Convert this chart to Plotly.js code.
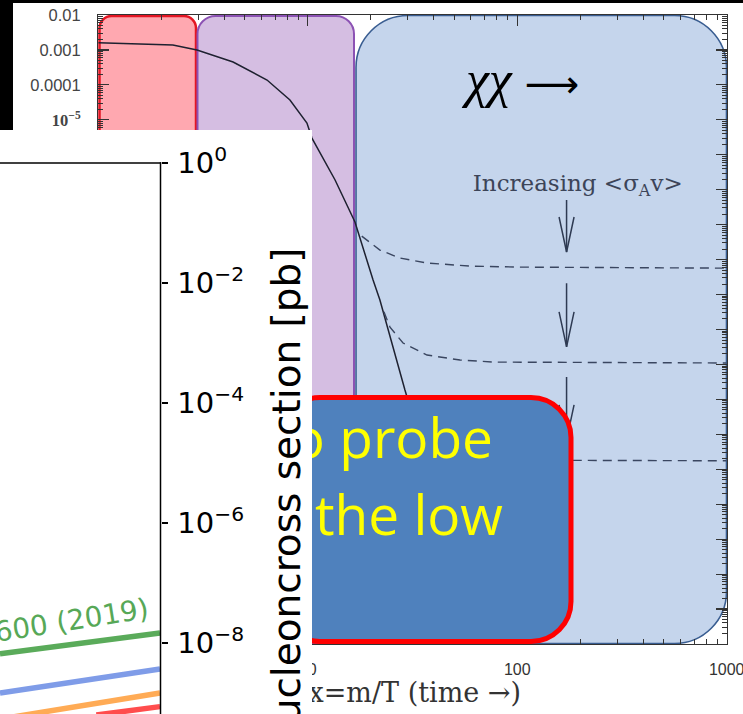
<!DOCTYPE html>
<html><head><meta charset="utf-8">
<script src="https://cdn.plot.ly/plotly-3.0.1.min.js"></script>
<style>html,body{margin:0;padding:0;background:#000;overflow:hidden}</style>
</head><body><div id="chart" style="width:743px;height:714px"></div>
<script>
// ---------- Freeze-out plot (background figure): x = m/T, comoving abundance Y ----------
const eqX = [1, 2.27, 2.96, 4.40, 6.39, 8.22, 9.91, 10.47, 13.5, 16.8, 20.5, 22.1, 29.1, 30.1];
const eqY = [1.6e-3, 1.38e-3, 1.0e-3, 4.5e-4, 1.38e-4, 3.7e-5, 8.1e-6, 3.0e-6, 1.9e-7, 1.19e-8, 2.6e-10, 7e-11, 1.85e-13, 9.5e-14];
const fo1X = [18.1, 22.1, 27.5, 37.1, 59.5, 103, 1000];
const fo1Y = [4.7e-9, 1.88e-9, 1.11e-9, 8.0e-10, 6.5e-10, 6.1e-10, 5.7e-10];
const fo2X = [23.1, 24.7, 28.5, 37.1, 53.3, 76.6, 1000];
const fo2Y = [3.2e-11, 1.17e-11, 4.1e-12, 1.86e-12, 1.34e-12, 1.17e-12, 1.1e-12];
const fo3X = [31, 40, 60, 100, 184, 1000];
const fo3Y = [4e-14, 5e-15, 2.3e-15, 1.9e-15, 1.8e-15, 1.75e-15];
const arrowX = [172, 172, 172];
const arrowTail = [5.1e-8, 2.1e-10, 4.4e-13];
const arrowTip = [1.65e-9, 3.2e-12, 6.9e-15];
const foTickVals = [1, 10, 100, 1000];
const foTickText = ['1', '10', '100', '1000'];
const yDecades = [-2,-3,-4,-5,-6,-7,-8,-9,-10,-11,-12,-13,-14,-15,-16,-17,-18,-19,-20];
const yTickText = ['0.01', '0.001', '0.0001'];

// ---------- Direct-detection overlay: WIMP mass [GeV], cross section [pb] ----------
const ddMass = [1000, 10000];
const deapY = [6.6e-9, 1.47e-8];
const blueY = [1.47e-9, 3.69e-9];
const orangeY = [5.4e-10, 1.47e-9];
const redMass = [4000, 10000];
const redY = [6.3e-10, 8.7e-10];
const ddTickVals = [1, 1e-2, 1e-4, 1e-6, 1e-8];
const ddTickText = ['10<sup>0</sup>', '10<sup>−2</sup>', '10<sup>−4</sup>', '10<sup>−6</sup>', '10<sup>−8</sup>'];

// ---------- geometry ----------
const W = 743, H = 714;
const FO = {x0: 98.3, x1: 726.7, y0: 15, y1: 644, xr: [0, 3], yr: [-20, -2]};
const pxPerDecX = (FO.x1 - FO.x0) / (FO.xr[1] - FO.xr[0]);
const pxPerDecY = (FO.y1 - FO.y0) / (FO.yr[1] - FO.yr[0]);

function rrect(x0, y0, x1, y1, r, mx, my) {
  const k = 0.5523 * r;
  const P = (x, y) => mx(x).toFixed(5) + ',' + my(y).toFixed(5);
  return 'M' + P(x0 + r, y0) + ' L' + P(x1 - r, y0) +
    ' C' + P(x1 - r + k, y0) + ' ' + P(x1, y0 + r - k) + ' ' + P(x1, y0 + r) +
    ' L' + P(x1, y1 - r) +
    ' C' + P(x1, y1 - r + k) + ' ' + P(x1 - r + k, y1) + ' ' + P(x1 - r, y1) +
    ' L' + P(x0 + r, y1) +
    ' C' + P(x0 + r - k, y1) + ' ' + P(x0, y1 - r + k) + ' ' + P(x0, y1 - r) +
    ' L' + P(x0, y0 + r) +
    ' C' + P(x0, y0 + r - k) + ' ' + P(x0 + r - k, y0) + ' ' + P(x0 + r, y0) + ' Z';
}
const paperX = v => v / W, paperY = v => 1 - v / H, ident = v => v;

// minor ticks
const minorX = [], minorY = [];
for (let e = 0; e < 3; e++) for (let k = 2; k <= 9; k++) minorX.push(k * Math.pow(10, e));
for (let e = -20; e < -2; e++) for (let k = 2; k <= 9; k++) minorY.push(k * Math.pow(10, e));
const yTickVals = yDecades.map(e => Math.pow(10, e));
const yTickLabels = yDecades.map((e, i) => i < yTickText.length ? yTickText[i] :
  '<span style="font-family:Liberation Serif"><b>10<sup>−' + (-e) + '</sup></b></span>');

// arrows (shaft + open V head)
const ax = [], ay = [];
const headLen = Math.pow(10, 35 / pxPerDecY), headW = Math.pow(10, 7.5 / pxPerDecX);
for (let i = 0; i < arrowX.length; i++) {
  ax.push(arrowX[i], arrowX[i], null, arrowX[i] / headW, arrowX[i], arrowX[i] * headW, null);
  ay.push(arrowTail[i], arrowTip[i], null, arrowTip[i] * headLen, arrowTip[i], arrowTip[i] * headLen, null);
}

const dashStyle = {color: '#3a4660', width: 1.4, dash: '9px,6px'};
const traces = [
  // subplot 1: freeze-out
  {x: eqX, y: eqY, mode: 'lines', line: {color: '#1e2130', width: 1.5}, xaxis: 'x', yaxis: 'y', hoverinfo: 'skip'},
  {x: fo1X, y: fo1Y, mode: 'lines', line: dashStyle, xaxis: 'x', yaxis: 'y', hoverinfo: 'skip'},
  {x: fo2X, y: fo2Y, mode: 'lines', line: dashStyle, xaxis: 'x', yaxis: 'y', hoverinfo: 'skip'},
  {x: fo3X, y: fo3Y, mode: 'lines', line: dashStyle, xaxis: 'x', yaxis: 'y', hoverinfo: 'skip'},
  {x: ax, y: ay, mode: 'lines', line: {color: '#2e3a52', width: 1.5}, xaxis: 'x', yaxis: 'y', hoverinfo: 'skip'},
  {x: [106], y: [1.05e-4], mode: 'text', text: ['<i>χχ</i> <span style="font-family:DejaVu Sans;font-size:38px">⟶</span>'], textposition: 'middle center',
   textfont: {family: 'Liberation Serif', size: 52, color: '#000'}, xaxis: 'x', yaxis: 'y', hoverinfo: 'skip'},
  {x: [194.5], y: [1.36e-7], mode: 'text', text: ['Increasing &lt;σ<sub>A</sub>v&gt;'], textposition: 'middle center',
   textfont: {family: 'DejaVu Serif', size: 23, color: '#3c4458'}, xaxis: 'x', yaxis: 'y', hoverinfo: 'skip'},
  // subplot 2: call-out box text + freeze-out x title (partly hidden by overlay)
  {x: [493], y: [444], mode: 'text', text: ['to probe'], textposition: 'middle left',
   textfont: {family: 'Open Sans', size: 55, color: '#FFFF00'}, xaxis: 'x2', yaxis: 'y2', hoverinfo: 'skip'},
  {x: [503], y: [521], mode: 'text', text: ['the low'], textposition: 'middle left',
   textfont: {family: 'Open Sans', size: 55, color: '#FFFF00'}, xaxis: 'x2', yaxis: 'y2', hoverinfo: 'skip'},
  {x: [521], y: [695], mode: 'text', text: ['x=m/T (time →)'], textposition: 'middle left',
   textfont: {family: 'DejaVu Serif', size: 27, color: '#333'}, xaxis: 'x2', yaxis: 'y2', hoverinfo: 'skip'},
  // subplot 3: direct-detection overlay
  {x: [100, 1e6, 1e6, 100], y: [1e-12, 1e-12, 1e3, 1e3], mode: 'lines', fill: 'toself', fillcolor: '#ffffff',
   line: {width: 0, color: '#ffffff'}, xaxis: 'x3', yaxis: 'y3', hoverinfo: 'skip'},
  {x: ddMass, y: deapY, mode: 'lines', line: {color: '#5aab5a', width: 5.5}, xaxis: 'x3', yaxis: 'y3', hoverinfo: 'skip'},
  {x: ddMass, y: blueY, mode: 'lines', line: {color: '#7f9ce8', width: 5.5}, xaxis: 'x3', yaxis: 'y3', hoverinfo: 'skip'},
  {x: ddMass, y: orangeY, mode: 'lines', line: {color: '#ffab55', width: 5.5}, xaxis: 'x3', yaxis: 'y3', hoverinfo: 'skip'},
  {x: redMass, y: redY, mode: 'lines', line: {color: '#ff4d4d', width: 5.5}, xaxis: 'x3', yaxis: 'y3', hoverinfo: 'skip'}
];

const frameAx = {showline: true, linecolor: '#333', linewidth: 1.3, mirror: 'ticks', ticks: 'inside', ticklen: 11,
  tickwidth: 1.2, tickcolor: '#333', showgrid: false, zeroline: false, fixedrange: true, ticklabeloverflow: 'allow'};

const layout = {
  width: W, height: H, margin: {l: 0, r: 0, t: 0, b: 0, pad: 0},
  paper_bgcolor: '#000', plot_bgcolor: 'rgba(0,0,0,0)', showlegend: false,
  xaxis: Object.assign({}, frameAx, {type: 'log', range: FO.xr, domain: [FO.x0 / W, FO.x1 / W], anchor: 'y',
    tickvals: foTickVals, ticktext: foTickText, ticklabelstandoff: 10,
    tickfont: {family: 'Liberation Sans', size: 16, color: '#333'},
    minor: {ticks: 'inside', ticklen: 5, tickwidth: 1, tickcolor: '#333', tickvals: minorX}}),
  yaxis: Object.assign({}, frameAx, {type: 'log', range: FO.yr, domain: [1 - FO.y1 / H, 1 - FO.y0 / H], anchor: 'x',
    tickvals: yTickVals, ticktext: yTickLabels, ticklabelstandoff: 13,
    tickfont: {family: 'Liberation Sans', size: 16.5, color: '#444'},
    minor: {ticks: 'inside', ticklen: 5, tickwidth: 1, tickcolor: '#333', tickvals: minorY}}),
  xaxis2: {domain: [300 / W, 1], range: [300, 743], anchor: 'y2', visible: false, fixedrange: true},
  yaxis2: {domain: [0, 1 - 380 / H], range: [714, 380], anchor: 'x2', visible: false, fixedrange: true},
  xaxis3: {type: 'log', domain: [0, 312 / W], range: [3, 3 + 312 / 160], anchor: 'y3', visible: false, fixedrange: true},
  yaxis3: {type: 'log', domain: [0, 1 - 130 / H], range: [-(714 - 163) / 60, (163 - 130) / 60],
    anchor: 'free', position: 160.5 / W, side: 'right', showline: false, showgrid: false, zeroline: false,
    ticks: 'outside', ticklen: 6, tickwidth: 1.5, tickcolor: '#000', tickvals: ddTickVals, ticktext: ddTickText,
    ticklabelstandoff: 4, tickfont: {family: 'DejaVu Sans', size: 29, color: '#000'}, fixedrange: true},
  shapes: [
    {type: 'rect', xref: 'paper', yref: 'paper', x0: 13 / W, x1: 1, y0: 0, y1: 1 - 3 / H, fillcolor: '#fff', line: {width: 0}, layer: 'below'},
    {type: 'path', xref: 'paper', yref: 'paper', layer: 'below', path: rrect(99.5, 16, 196, 643, 12, paperX, paperY),
     fillcolor: 'rgb(255,168,176)', line: {color: 'rgb(228,22,35)', width: 2.5}},
    {type: 'path', xref: 'paper', yref: 'paper', layer: 'below', path: rrect(197.5, 16, 354, 643, 18, paperX, paperY),
     fillcolor: 'rgb(213,190,226)', line: {color: 'rgb(140,82,180)', width: 2}},
    {type: 'path', xref: 'paper', yref: 'paper', layer: 'below', path: rrect(356, 15.5, 726.5, 643.5, 52, paperX, paperY),
     fillcolor: 'rgb(197,213,236)', line: {color: 'rgb(57,93,145)', width: 1.6}},
    // call-out box (above the freeze-out plot, below the overlay)
    {type: 'path', xref: 'x2', yref: 'y2', layer: 'below', path: rrect(280, 397.5, 571, 641.5, 40, ident, ident),
     fillcolor: 'rgb(79,129,189)', line: {color: '#ff0000', width: 5}},
    // overlay frame lines
    {type: 'line', xref: 'paper', yref: 'paper', layer: 'above', x0: 0, x1: 161.2 / W, y0: 1 - 163 / H, y1: 1 - 163 / H, line: {color: '#000', width: 1.5}},
    {type: 'line', xref: 'paper', yref: 'paper', layer: 'above', x0: 160.5 / W, x1: 160.5 / W, y0: 1 - 162.3 / H, y1: 0, line: {color: '#000', width: 1.5}}
  ],
  annotations: [
    {xref: 'paper', yref: 'paper', x: 286 / W, y: 1 - 246 / H, xanchor: 'center', yanchor: 'top', textangle: -90,
     text: 'WIMP-nucleoncross section [pb]', showarrow: false, font: {family: 'DejaVu Sans', size: 39, color: '#000'}},
    {xref: 'paper', yref: 'paper', x: 153 / W, y: 1 - 590 / H, xanchor: 'right', yanchor: 'top', textangle: -9,
     text: 'DEAP-3600 (2019)', showarrow: false, font: {family: 'DejaVu Sans', size: 28, color: '#57a857'}}
  ]
};

Plotly.newPlot('chart', traces, layout, {displayModeBar: false, staticPlot: true});
</script></body></html>
